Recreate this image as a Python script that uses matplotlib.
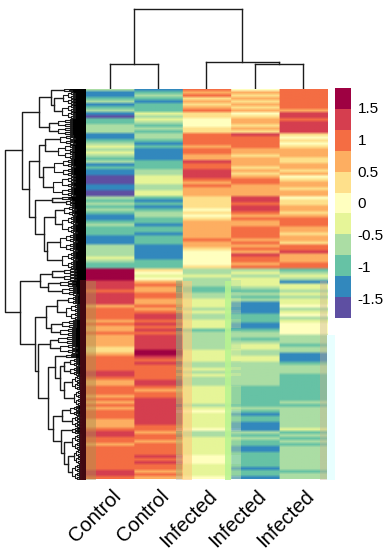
"""Clustered expression heatmap, control vs infected samples."""
import matplotlib
matplotlib.use("Agg")
import matplotlib.pyplot as plt
import numpy as np
from matplotlib.colors import BoundaryNorm, ListedColormap

plt.rcParams["font.family"] = ["Liberation Sans", "DejaVu Sans"]
plt.rcParams["axes.unicode_minus"] = False

W, H = 386, 550
LINE = "#1c1c1c"

samples = ["Control", "Control", "Infected", "Infected", "Infected"]

control_1 = [
    -0.7, -1.3, -1.3, -1, -0.7, -1.3, -1, -0.7, -1.3, -1.6, -1, -1, -0.7, -0.7, -0.7, -1.3,
    -1.3, -1, -0.7, -0.3, -0.7, -0.3, -0.7, -1, -0.7, -1.3, -1, -1.3, -1.3, -1.6, -1.6, -1.6,
    -1.3, -1.3, -1.6, -1.6, -0.7, -1, -0.7, -1, -0.7, -1, -1.3, -1.3, -1, -0.7, -1, -1,
    -1, -1.3, -1.3, -1.3, -0.7, -0.7, -0.7, -0.7, -0.3, -0.7, -1, -1, 1.6, 1.6, 1.6, 1.6,
    1.3, 1.3, 1.3, 1, 1.3, 1.3, 1.3, 1.3, 0.7, 1, 1, 1, 1, 0.7, 1, 0.7, 0.7, 1, 0.7, 0.7,
    0.7, 0.7, 0.3, 0.3, 0.7, 1, 1, 1, 1, 1, 1.3, 1.3, 1,
    0.7, 0.7, 1, 1, 1, 0.7, 1, 0.7, 1, 0.7, 1, 1, 1, 0.7, 0.7, 0.7, 1, 1.3, 1.3, 1, 1, 0.7,
    1, 1, 1, 1, 1, 1, 1, 1, 1.3, 1.3, 1,
]
control_2 = [
    -1.3, -1, -0.7, -1, -1.3, -1, -1, -1, -0.3, -0.7, -0.3, -0.7, -1, -0.7, -1, -0.7,
    -0.7, -1, -1.3, -1, -1.3, -1.3, -1.3, -1.3, -1, -1, -1, -0.7, -0.7, -0.3, -0.3, -0.3,
    -0.7, -0.7, -0.3, -0.3, -1, -1.3, -1, -1.3, -1, -0.7, -0.7, -1, -1, -1.3, -1, -1,
    -1.3, -1, -1, -1, -1.3, -1.3, -1.3, -1.3, -1.3, -1, -1, -1, 0.3, 0, -0.3, 0,
    0.7, 1, 0.7, 0.7, 1, 1, 0.7, 0.7, 1, 0.7, 1, 1.3, 1.3, 1, 1.3, 1, 1.3, 1, 1.3, 1.3,
    1.3, 1.3, 1.3, 1.6, 1.6, 1.3, 1, 1.3, 1, 1, 1, 1, 1,
    1.3, 1.3, 1, 0.7, 1, 1, 1.3, 1.3, 1.3, 1.3, 1.3, 1.3, 1.3, 1.3, 1.3, 1, 1, 0.7, 1, 1,
    0.7, 1, 1, 1, 1, 1.3, 1, 1.3, 1, 1, 0.7, 1, 0.7,
]
infected_1 = [
    1, 0.7, 1, 0.3, 0.7, 0.3, 0.7, 1, 0.3, 0.3, 0, 0, 0, 0.3, 0.3, 1,
    1, 1, 1, 0.7, 1, 1, 0.7, 0.7, 1.3, 1, 1, 1.3, 1.3, 1.3, 1, 0.7,
    1, 0.7, 0.7, 0.7, 0.3, 0.3, 0.3, 0.3, 0, 0.3, 0, 0.3, 0.7, 0.7, 0.7, 0.7,
    0.7, 0.7, 1, 0.7, 0.7, 0.3, 0, 0, 0, 0, 0, 0.3, -0.7, -0.5, -0.3, -0.5,
    -0.7, -0.7, -1, -1, -0.7, -0.5, -0.3, -0.3, -0.3, -0.5, -0.3, -0.7, -0.7, -0.3, -0.3,
    -0.3, -1, -0.7, -0.7, -0.7, -0.7, -0.7, -0.5, -0.3, -0.3, -0.3, -0.3, -0.5, -0.7, -0.3,
    -0.7, -0.3, -0.5,
    -0.7, -0.5, -0.3, -0.3, -0.3, -0.3, -0.3, -0.3, -0.5, -0.3, 0, -0.3, -0.3, -0.3, -0.3,
    -0.3, 0, -0.5, -0.5, -0.3, -0.3, -0.3, -0.3, -0.3, -0.3, 0, 0, 0, -0.3, -0.3, -0.3,
    -0.3, 0,
]
infected_2 = [
    0, 0.7, 0.3, 0.7, 0.3, 0.7, 0.3, 0.7, 0, 0.3, 0.7, 0.7, 0.3, 0.7, 0.3, 1.3,
    1, 1, 1, 1, 0.7, 0.7, 0.3, 0.7, 0.7, 0.7, 0.3, 0.7, 0.3, 0.7, 1, 1,
    0.7, 0.7, 0.7, 0.7, 1.3, 1.3, 1, 1.3, 1.3, 1, 0.7, 1, 0.7, 0.7, 1, 1,
    1, 1, 0.7, 1, 0.7, 1, 0.7, 1.3, 1, 1, 0.7, 1, -0.7, -0.3, -0.5, -0.3,
    -0.3, -0.3, -0.7, -1, -0.7, -1, -0.7, -1.3, -1.3, -1.3, -1.3, -1, -1, -1, -1.3, -1.3,
    -1, -0.7, -0.7, -1, -0.7, -0.3, -0.3, -0.7, -0.5, -0.3, -0.3, -0.7, -0.7, -0.7, -0.7,
    -0.7, -0.7,
    -0.7, -0.7, -1, -1, -1, -1, -1, -1, -1, -0.7, -1, -1.3, -1, -1, -1.3, -1.3, -1.3, -0.7,
    -1, -0.7, -1, -1, -1.3, -1.3, -1, -1, -1, -1, -1, -1.3, -1, -1, -1.3,
]
infected_3 = [
    1, 1, 1, 1, 1, 1, 1, 0.7, 1.3, 1.3, 1, 1.3, 1.3, 1.3, 1.3, 0.3,
    0, 0.3, 0, 0.3, 0.7, 0.7, 0.7, 0.3, 0.3, 0.7, 0.7, 0.3, 0.7, 0, 0.3, 0.7,
    0.7, 0.3, 0.7, 0.7, 0, 0.3, 0.3, 0.7, 0.7, 0.3, 0.7, 1, 1, 1, 0.7, 0.7,
    0.3, 0.7, 0.7, 0.3, 1, 1, 1.3, 0.7, 0.7, 0.7, 1, 1, -1, -0.7, -0.3, -0.5,
    -1.3, -0.3, -0.3, -0.5, -0.3, -0.5, -0.3, -0.3, 0, -0.5, -0.3, 0, -0.7, -0.3, 0, 0,
    0, 0, -0.7, -0.7, -0.7, -1, -0.7, -0.7, -1.3, -1.3, -1.3, -1, -0.7, -0.7, -0.7, -1, -1,
    -1, -1, -1, -1, -1, -1, -1, -0.7, -1, -0.7, -0.7, -0.7, -0.7, -0.7, -0.7, -0.7, -0.3,
    -1, -0.7, -1, -0.7, -1, -0.7, -0.7, -0.7, -0.7, -0.7, -0.7, -0.5, -0.7, -1, -0.7, -0.7,
]

level_colors = ["#5e4fa2", "#3288bd", "#66c2a5", "#abdda4", "#e6f598", "#ffffbf",
                "#fee08b", "#fdae61", "#f46d43", "#d53e4f", "#9e0142"]
level_breaks = [-1.8, -1.47, -1.15, -0.82, -0.49, -0.16, 0.16, 0.49, 0.82, 1.15, 1.47, 1.8]
legend_ticks = [-1.5, -1, -0.5, 0, 0.5, 1, 1.5]
legend_labels = ["-1.5", "-1", "-0.5", "0", "0.5", "1", "1.5"]

# sample tree: merges as (left x, right x, merge height), x in column units
col_merges = [(0.5, 1.5, 24.5), (3.5, 4.5, 25), (2.5, 4.0, 27), (1.0, 3.25, 80)]
col_stems = [(0.5, 24.5), (1.5, 24.5), (2.5, 27), (3.5, 25), (4.5, 25)]

# gene tree: (x of the join, upper, lower), or (x of the join, number of leaves) for a twig
row_tree = (5,
    (21.7,
        (39,
            (51, (64, 3), (54, (63, 13), (62, 14))),
            (48.7, (58, 8), (58, 8))),
        (28.7,
            (39.3,
                (44.7, (60, 10), (58, 14)),
                (43.3, (54, 18), (53, 20))),
            (35,
                (52, (62, 3), (66, 6)),
                (44.3,
                    (54.6, (64, 10), (62, 18)),
                    (46.7, (60, 18), (62, 17)))))),
    (20,
        (40,
            (52, (64, 6), (64, 6)),
            (48, (60, 6), (62, 9))),
        (34.7,
            (46,
                (56.7, (68, 8), (66, 16)),
                (51, (62, 8), (60, 8))),
            (37.7,
                (50, (58, 8), (60, 10)),
                (48,
                    (55, (66, 4),
                        (60,
                            (64, (70, 9), (70, 9)),
                            (64, (72, 14), (74, 16)))),
                    (52.7,
                        (62, (70, 10), (72, 12)),
                        (60.7, (72, 6),
                            (64, (72, 16),
                                (68, (74, 14), (72, 16))))))))))


def px_axes(fig, x0, y0, x1, y1):
    return fig.add_axes([x0 / W, 1 - y1 / H, (x1 - x0) / W, (y1 - y0) / H])


def draw_twig(ax, x, y0, n, edge):
    # fine splits close to the leaves, they merge into the black band
    if n <= 1 or x >= edge:
        for i in range(n):
            ax.plot([x, 85.5], [y0 + i + 0.5] * 2, color="black", lw=0.8)
        return y0 + n / 2
    n1 = max(1, int(n * 0.55))
    step = max(2.0, (edge - x) / 2.5)
    a = draw_twig(ax, x + step, y0, n1, edge)
    b = draw_twig(ax, x + step, y0 + n1, n - n1, edge)
    ax.plot([x + step, x, x, x + step], [a, a, b, b], color=LINE, lw=0.8)
    return (a + b) / 2


def draw_tree(ax, node, y0):
    # returns (y of the node, first free leaf position)
    if len(node) == 2:
        edge = 76 if y0 < 180 else 79.5
        return draw_twig(ax, node[0], y0, node[1], edge), y0 + node[1]
    x = node[0]
    ya, y1 = draw_tree(ax, node[1], y0)
    yb, y2 = draw_tree(ax, node[2], y1)
    xa = node[1][0]
    xb = node[2][0]
    ax.plot([xa, x, x, xb], [ya, ya, yb, yb], color=LINE, lw=1.0)
    return (ya + yb) / 2, y2


def main():
    columns = [control_1, control_2, infected_1, infected_2, infected_3]
    assert all(len(c) == 130 for c in columns), [len(c) for c in columns]
    values = np.array(columns).T
    n_rows = values.shape[0]
    cmap = ListedColormap(level_colors)
    norm = BoundaryNorm(level_breaks, cmap.N)

    fig = plt.figure(figsize=(W / 100, H / 100), dpi=100)

    ax_row = px_axes(fig, 0, 88.5, 85.5, 479.5)
    draw_tree(ax_row, row_tree, 0)
    ax_row.set_xlim(0, 85.5)
    ax_row.set_ylim(391, 0)
    ax_row.axis("off")

    ax_col = px_axes(fig, 85.5, 0, 327, 88.5)
    for x0, x1, h in col_merges:
        ax_col.plot([x0, x1], [h, h], color=LINE, lw=1.0)
    ax_col.plot([1.0, 1.0], [24.5, 80], color=LINE, lw=1.0)
    ax_col.plot([3.25, 3.25], [27, 80], color=LINE, lw=1.0)
    ax_col.plot([4.0, 4.0], [25, 27], color=LINE, lw=1.0)
    for x, h in col_stems:
        ax_col.plot([x, x], [0, h], color=LINE, lw=1.0)
    ax_col.set_xlim(0, 5)
    ax_col.set_ylim(0, 88.5)
    ax_col.axis("off")

    ax = px_axes(fig, 85.5, 88.5, 327, 479.5)
    ax.patch.set_alpha(0)
    # widen the cells so the soft resampling only blurs along the rows' edges
    im = ax.imshow(np.repeat(values, 48, axis=1), cmap=cmap, norm=norm, aspect="auto",
                   interpolation="bilinear", interpolation_stage="rgba",
                   extent=(0, 5, n_rows, 0))

    # the lower half of the source figure has pale ghost bands at the column edges
    px = lambda v: (v - 85.5) / 48.3
    start = 64
    lower = values[start:]
    lower_top = 1 - start / n_rows
    ghost_sources = [(176, 182, 2, 0.5), (231, 241, 2, 0.35)]
    for x0, x1, col, alpha in ghost_sources:
        ax.imshow(lower[:, [col]], cmap=cmap, norm=norm, aspect="auto", alpha=alpha,
                  interpolation="nearest", extent=(px(x0), px(x1), n_rows, start))
    ghost_fills = [(85.5, 96, "#a89050", 0.45), (176, 182, "#000000", 0.12),
                   (182, 192, "#ffc87a", 0.55), (225, 231, "#b8f490", 0.85),
                   (320, 327, "#c8b090", 0.4)]
    for x0, x1, color, alpha in ghost_fills:
        ax.axvspan(px(x0), px(x1), ymin=0, ymax=lower_top, color=color, alpha=alpha, lw=0)
    ax.axvspan(px(327), px(335), ymin=0, ymax=1 - (335 - 88.5) / 391, color="#e8ffff",
               lw=0, clip_on=False)
    ax.axvspan(px(80), 0, ymin=0, ymax=1 - (280 - 88.5) / 391, color="#4a0a14",
               alpha=0.9, lw=0, clip_on=False)
    ax.set_xlim(0, 5)
    ax.set_ylim(n_rows, 0)
    ax.set_yticks([])
    ax.set_xticks([])
    for side in ax.spines.values():
        side.set_visible(False)
    for i, name in enumerate(samples):
        ax.annotate(name, xy=(i + 0.5, n_rows), xytext=(1, -5), textcoords="offset points",
                    rotation=45, rotation_mode="anchor", ha="right", va="top",
                    fontsize=14.5, color="black", annotation_clip=False)

    cax = px_axes(fig, 335, 88, 350.5, 318)
    cbar = fig.colorbar(im, cax=cax, ticks=legend_ticks, spacing="proportional")
    cbar.set_ticklabels(legend_labels)
    cbar.outline.set_visible(False)
    cbar.ax.minorticks_off()
    cbar.ax.tick_params(length=0, labelsize=11, pad=5)

    fig.savefig("out.png", dpi=100)


if __name__ == "__main__":
    main()
